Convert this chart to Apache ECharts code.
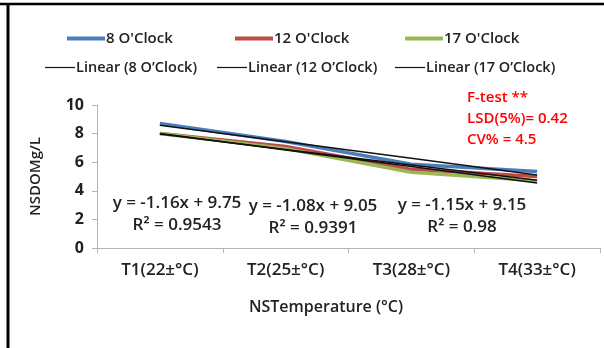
<!DOCTYPE html>
<html>
<head>
<meta charset="utf-8">
<script src="https://cdn.jsdelivr.net/npm/echarts@6/dist/echarts.min.js"></script>
<style>
  html, body { margin: 0; padding: 0; background: #fff; }
  #chart { width: 604px; height: 348px; }
</style>
</head>
<body>
<div id="chart"></div>
<script>
const categories = ["T1(22±°C)", "T2(25±°C)", "T3(28±°C)", "T4(33±°C)"];
const yTicks = [0, 2, 4, 6, 8, 10];

const clock8 = [8.7, 7.45, 5.85, 5.35];
const clock12 = [8.0, 7.1, 5.5, 5.0];
const clock17 = [8.0, 6.95, 5.3, 4.7];

// trend values
const trend8 = [8.59, 7.43, 6.27, 5.11];
const trend12 = [7.97, 6.89, 5.81, 4.73];
const trend17 = [8.0, 6.85, 5.7, 4.55];

const equations = [
  ["y = -1.16x + 9.75", "R² = 0.9543"],
  ["y = -1.08x + 9.05", "R² = 0.9391"],
  ["y = -1.15x + 9.15", "R² = 0.98"],
];
const statsText = ["F-test **", "LSD(5%)= 0.42", "CV% = 4.5"];

const font = "'Open Sans', sans-serif";
const chart = echarts.init(document.getElementById("chart"));

function legendAt(name, left, top, thick, len, size) {
  return {
    data: [name],
    left: left,
    top: top,
    icon: "rect",
    itemWidth: len,
    itemHeight: thick,
    itemGap: 0,
    padding: 0,
    textStyle: { fontFamily: font, fontSize: size, color: "#222", fontWeight: 600, padding: [0, 0, 0, -4] },
  };
}

function colored(name, data, color) {
  return {
    name: name,
    type: "line",
    data: data,
    showSymbol: false,
    symbol: "none",
    lineStyle: { width: 3.5, color: color },
    itemStyle: { color: color },
    z: 2,
  };
}

function trend(name, data) {
  return {
    name: name,
    type: "line",
    data: data,
    showSymbol: false,
    symbol: "none",
    lineStyle: { width: 1.5, color: "#111" },
    itemStyle: { color: "#111" },
    z: 3,
  };
}

const eqPos = [[177, 192], [313, 195], [462, 194]];
const graphics = [
  { type: "line", shape: { x1: 0, y1: 4, x2: 604, y2: 4 }, style: { stroke: "#000", lineWidth: 2.5 } },
  { type: "line", shape: { x1: 8, y1: 4, x2: 8, y2: 348 }, style: { stroke: "#000", lineWidth: 3 } },
];
equations.forEach((eq, i) => {
  graphics.push({
    type: "text",
    x: eqPos[i][0],
    y: eqPos[i][1],
    style: {
      text: eq[0] + "\n" + eq[1],
      align: "center",
      font: "600 17px " + font,
      lineHeight: 22,
      fill: "#222",
    },
  });
});
graphics.push({
  type: "text",
  x: 467,
  y: 87,
  style: {
    text: statsText.join("\n"),
    font: "600 15px " + font,
    lineHeight: 21,
    fill: "#ff0000",
  },
});

const options = {
  animation: false,
  legend: [
    legendAt("8 O'Clock", 67, 31, 4, 38, 15),
    legendAt("12 O'Clock", 235, 31, 4, 38, 15),
    legendAt("17 O'Clock", 405, 31, 4, 38, 15),
    legendAt("Linear (8 O’Clock)", 45, 60, 1.2, 30, 14.5),
    legendAt("Linear (12 O’Clock)", 217, 60, 1.2, 30, 14.5),
    legendAt("Linear (17 O’Clock)", 395, 60, 1.2, 30, 14.5),
  ],
  grid: { left: 97, right: 4, top: 105, bottom: 100 },
  xAxis: {
    type: "category",
    data: categories,
    boundaryGap: true,
    name: "NSTemperature (°C)",
    nameLocation: "middle",
    nameGap: 51,
    nameTextStyle: { fontFamily: font, fontSize: 16, color: "#222", fontWeight: 600, padding: [0, 45, 0, 0] },
    axisLine: { lineStyle: { color: "#b5b5b5", width: 1 } },
    axisTick: { show: true, length: 5, lineStyle: { color: "#b5b5b5" } },
    axisLabel: { fontFamily: font, fontSize: 17, color: "#222", fontWeight: 600, margin: 14 },
    splitLine: { show: false },
  },
  yAxis: {
    type: "value",
    min: yTicks[0],
    max: yTicks[yTicks.length - 1],
    interval: 2,
    name: "NSDOMg/L",
    nameLocation: "middle",
    nameGap: 54,
    nameRotate: 90,
    nameTextStyle: { fontFamily: font, fontSize: 15, color: "#222", fontWeight: 600 },
    axisLine: { show: true, lineStyle: { color: "#b5b5b5", width: 1 } },
    axisTick: { show: true, length: 5, lineStyle: { color: "#b5b5b5" } },
    axisLabel: { fontFamily: font, fontSize: 16, color: "#222", fontWeight: 700, margin: 13 },
    splitLine: { show: false },
  },
  series: [
    colored("8 O'Clock", clock8, "#4a7ebb"),
    colored("12 O'Clock", clock12, "#be4b48"),
    colored("17 O'Clock", clock17, "#98b954"),
    trend("Linear (8 O’Clock)", trend8),
    trend("Linear (12 O’Clock)", trend12),
    trend("Linear (17 O’Clock)", trend17),
  ],
  graphic: graphics,
};

chart.setOption(options);
</script>
</body>
</html>
